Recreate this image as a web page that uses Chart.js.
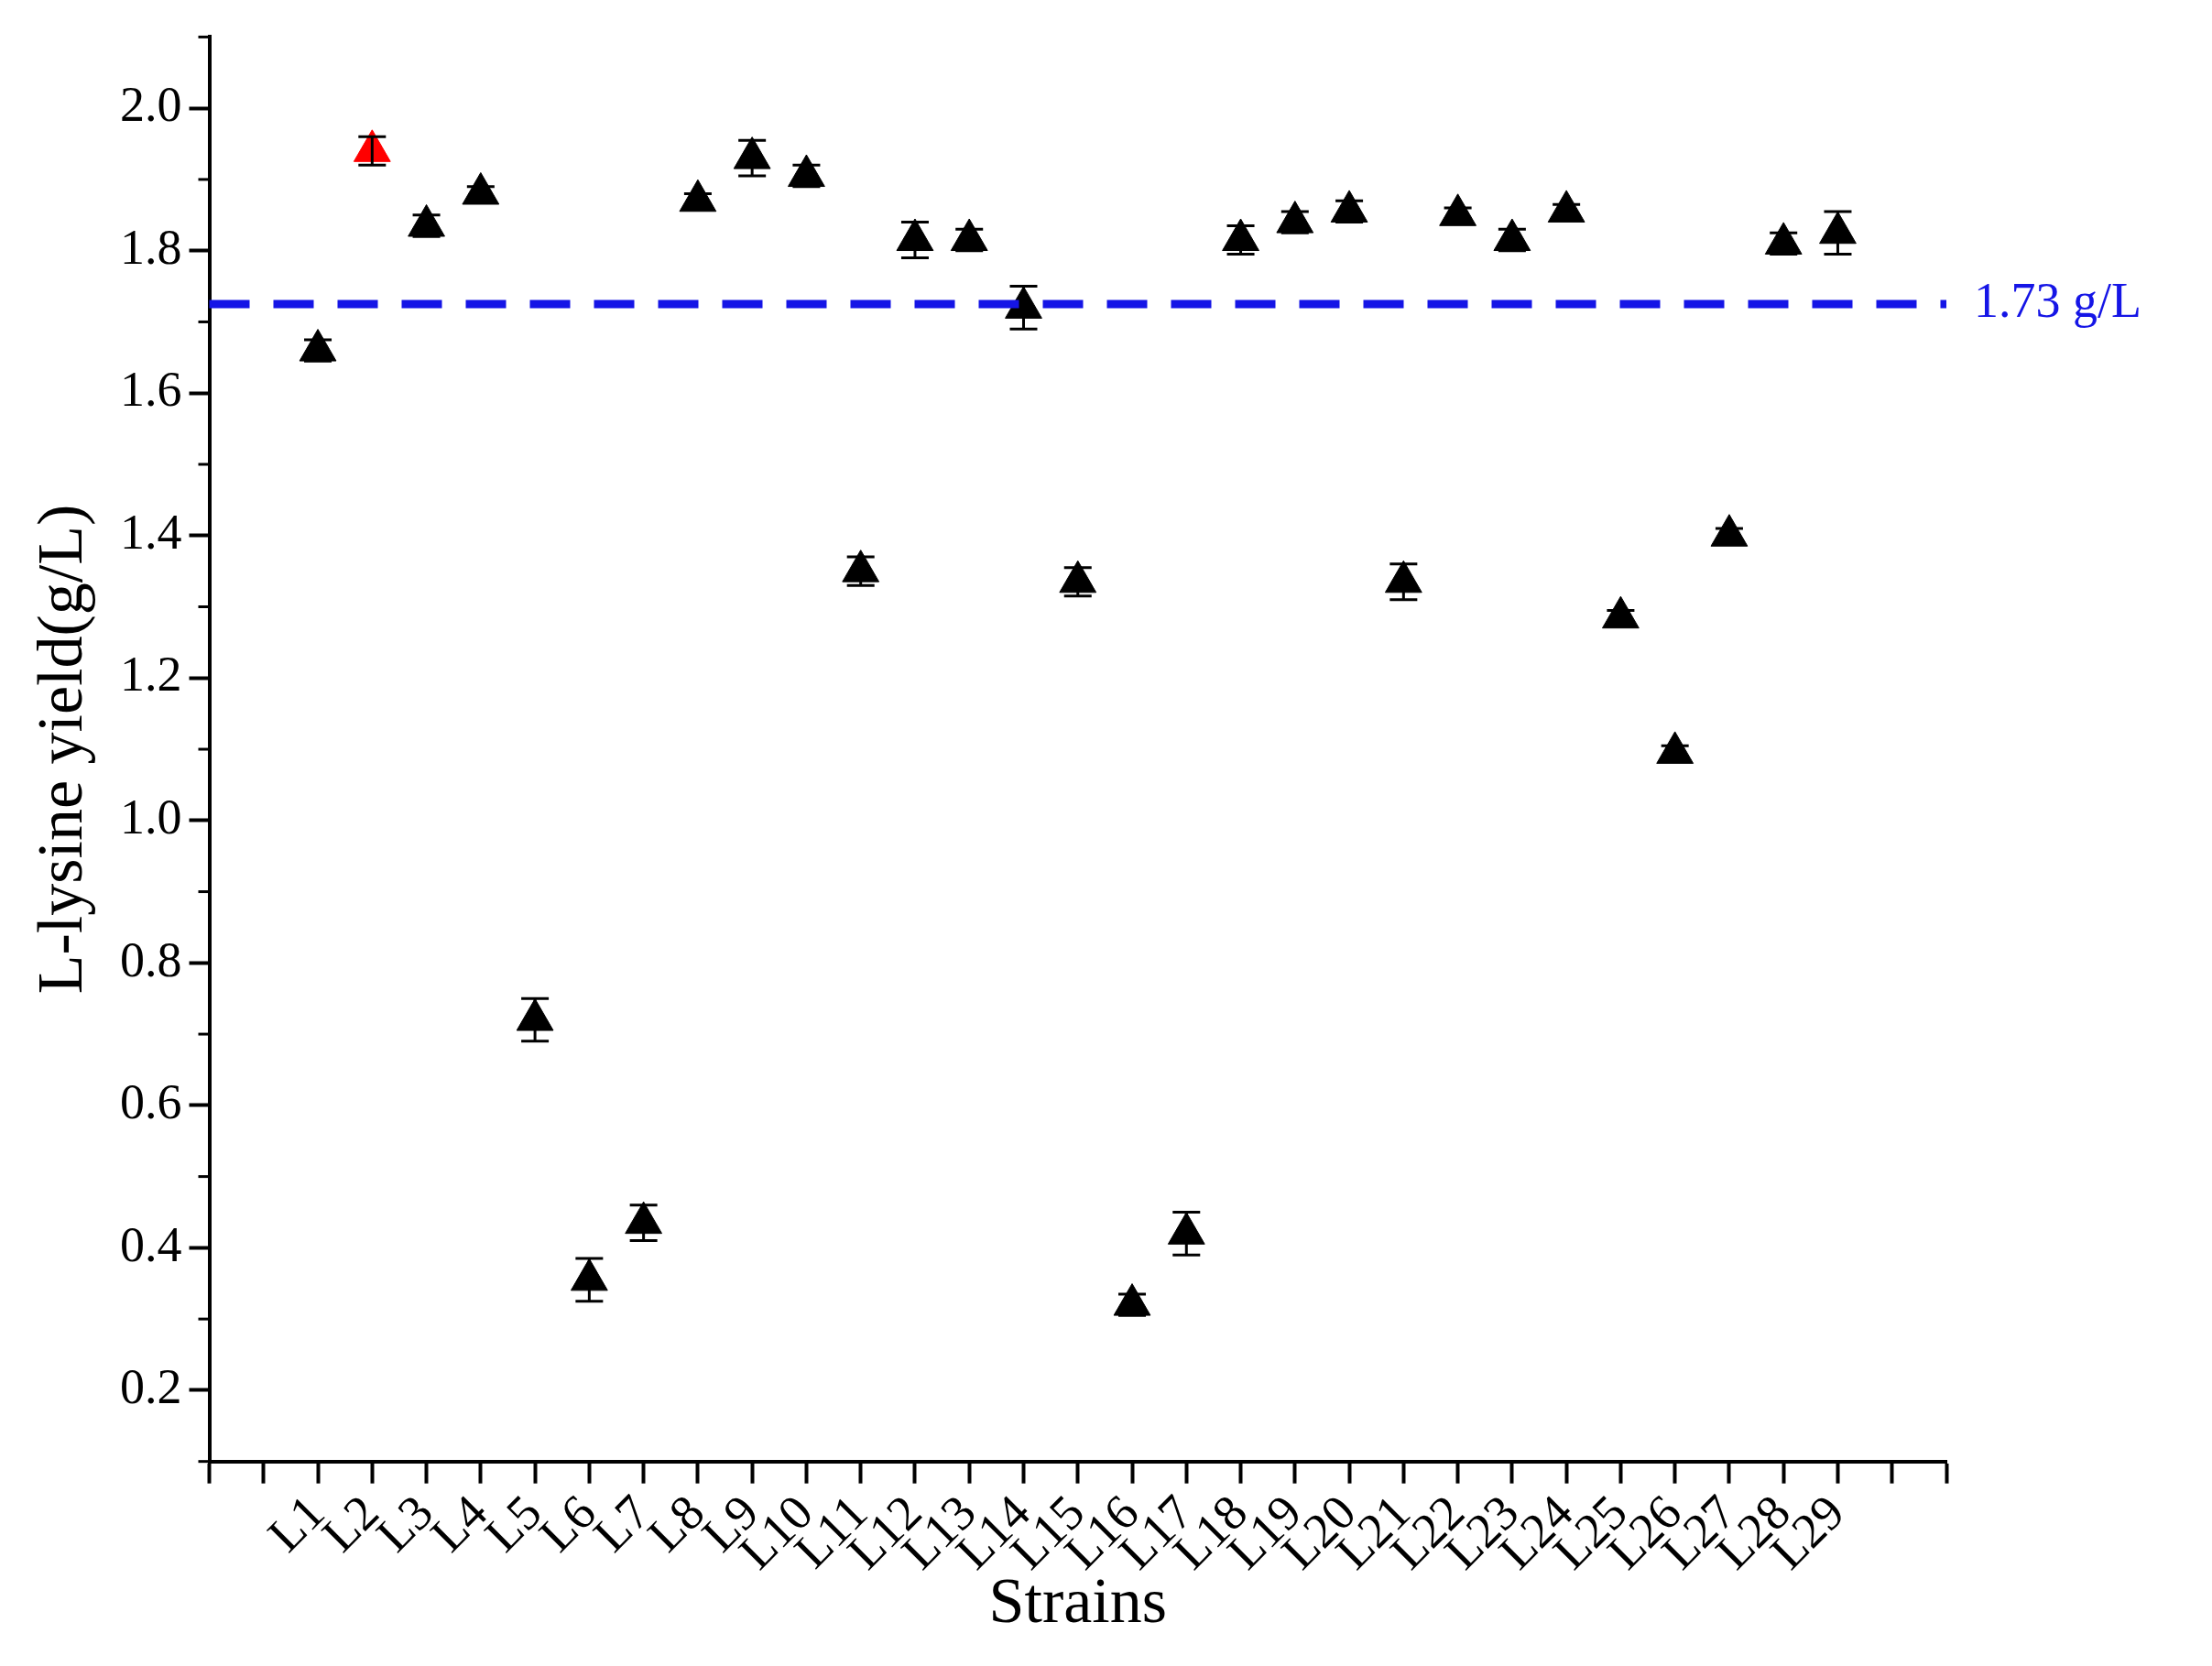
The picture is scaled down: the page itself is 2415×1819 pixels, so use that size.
<!DOCTYPE html>
<html><head><meta charset="utf-8">
<script src="https://cdn.jsdelivr.net/npm/chart.js@4/dist/chart.umd.min.js"></script>
<style>html,body{margin:0;padding:0;background:#fff}#wrap{width:2415px;height:1819px}</style>
</head><body><div id="wrap"><canvas id="c"></canvas></div>
<script>
const strains = ['', '', 'L1','L2','L3','L4','L5','L6','L7','L8','L9','L10','L11','L12','L13','L14','L15','L16','L17','L18','L19','L20','L21','L22','L23','L24','L25','L26','L27','L28','L29','', ''];
const yields = [null, null, 1.66,1.94,1.835,1.88,0.72,0.355,0.435,1.87,1.93,1.905,1.35,1.815,1.815,1.72,1.335,0.32,0.42,1.815,1.84,1.855,1.335,1.85,1.815,1.855,1.285,1.095,1.40,1.81,1.825, null, null];
const errors = [0,0, 0.015,0.02,0.015,0.01,0.03,0.03,0.025,0.01,0.025,0.015,0.02,0.025,0.015,0.03,0.02,0.015,0.03,0.02,0.015,0.015,0.025,0.01,0.015,0.01,0.01,0.01,0.01,0.015,0.03,0,0];
const yTicks = [0.2,0.4,0.6,0.8,1.0,1.2,1.4,1.6,1.8,2.0];
const threshold = 1.725;
const thresholdLabel = '1.73 g/L';
const highlight = 'L2';

const FONT = '"Liberation Serif","Times New Roman",serif';
const extras = {
  id:'extras',
  afterDatasetsDraw(ch){
    const {ctx, scales:{x,y}, chartArea:a} = ch;
    ctx.save();
    ctx.strokeStyle='#000'; ctx.lineWidth=3;
    yields.forEach((v,i)=>{
      if(v==null) return;
      const px=x.getPixelForValue(i), t=y.getPixelForValue(v+errors[i]), b=y.getPixelForValue(v-errors[i]);
      ctx.beginPath(); ctx.moveTo(px,t); ctx.lineTo(px,b);
      ctx.moveTo(px-15,t); ctx.lineTo(px+15,t); ctx.moveTo(px-15,b); ctx.lineTo(px+15,b); ctx.stroke();
    });
    ctx.lineWidth=3;
    for(let v=0.1; v<2.11; v+=0.2){
      const py=y.getPixelForValue(v);
      ctx.beginPath(); ctx.moveTo(a.left,py); ctx.lineTo(a.left-12,py); ctx.stroke();
    }
    const ty=y.getPixelForValue(threshold);
    ctx.strokeStyle='#1515e6'; ctx.lineWidth=9; ctx.setLineDash([44,26]);
    ctx.beginPath(); ctx.moveTo(a.left,ty); ctx.lineTo(a.right,ty); ctx.stroke();
    ctx.setLineDash([]);
    ctx.fillStyle='#1515e6'; ctx.font='54px '+FONT; ctx.textBaseline='middle';
    ctx.fillText(thresholdLabel, a.right+30, ty);
    ctx.restore();
  }
};

new Chart(document.getElementById('c'), {
  type:'line',
  data:{labels:strains, datasets:[{
    data:yields, showLine:false, pointStyle:'triangle', pointRadius:23, pointHoverRadius:23,
    pointBackgroundColor: strains.map(s=>s===highlight?'#ff0000':'#000'),
    pointBorderColor: strains.map(s=>s===highlight?'#ff0000':'#000'), pointBorderWidth:1
  }]},
  options:{
    responsive:true, maintainAspectRatio:false, animation:false,
    layout:{padding:{left:25,right:290,top:34,bottom:20}},
    plugins:{legend:{display:false}, tooltip:{enabled:false}},
    scales:{
      x:{offset:false, grid:{display:true, drawOnChartArea:false, color:'rgba(0,0,0,0)', drawTicks:true, tickLength:24, tickWidth:4, tickColor:'#000'},
         border:{color:'#000', width:4},
         ticks:{color:'#000', font:{family:FONT,size:54}, maxRotation:45, minRotation:45, autoSkip:false, padding:2},
         title:{display:true, text:'Strains', color:'#000', font:{family:FONT,size:70}, padding:{top:-20}}},
      y:{min:0.1, max:2.1, grid:{display:true, drawOnChartArea:false, color:'rgba(0,0,0,0)', drawTicks:true, tickLength:22, tickWidth:4, tickColor:'#000'},
         border:{color:'#000', width:4},
         afterBuildTicks(s){ s.ticks = yTicks.map(v=>({value:v})); },
         ticks:{color:'#000', font:{family:FONT,size:54}, callback:v=>Number(v).toFixed(1), padding:8},
         title:{display:true, text:'L-lysine yield(g/L)', color:'#000', font:{family:FONT,size:70}, padding:{bottom:10}}}
    }
  },
  plugins:[extras]
});
</script></body></html>
